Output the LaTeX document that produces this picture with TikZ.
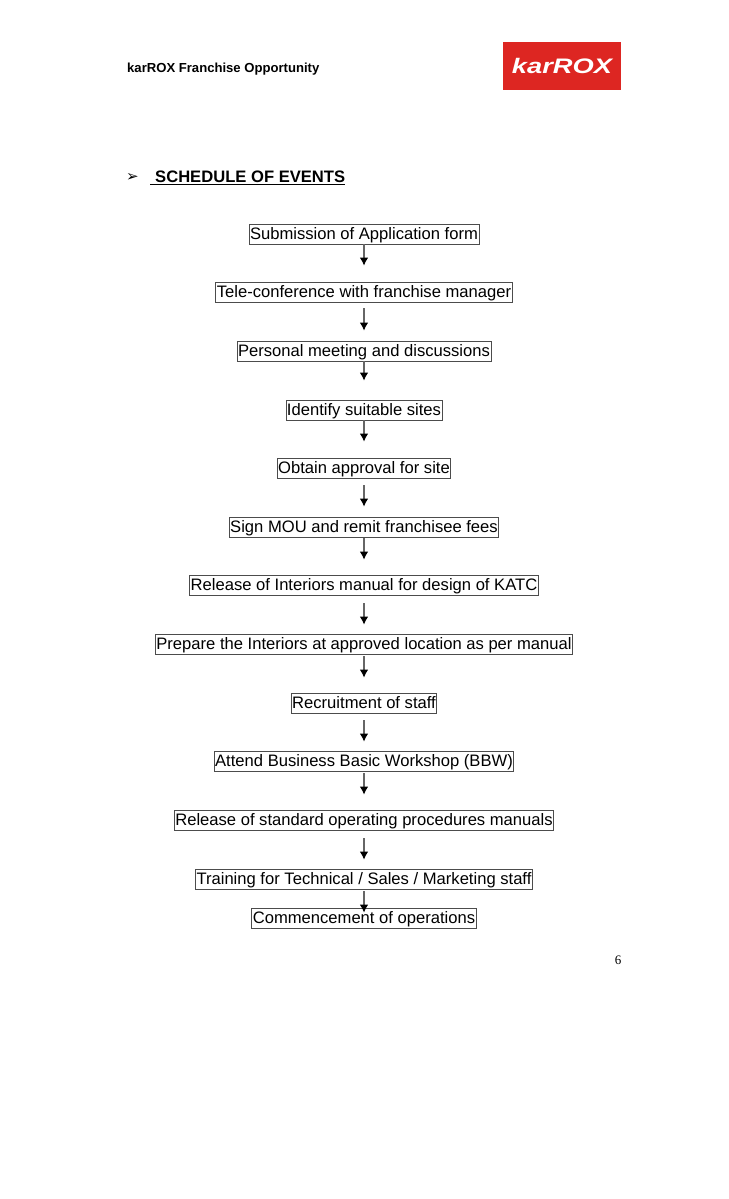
\documentclass[tikz,border=0pt]{standalone}
\usepackage{fontspec}
\setmainfont{Liberation Sans}
\newfontfamily\serifnum{Liberation Serif}
\newfontfamily\symbolfont{DejaVu Sans}
\usetikzlibrary{arrows.meta}
\definecolor{logored}{HTML}{DD2622}

\tikzset{
    stepbox/.style={draw=black!70, line width=0.8pt, inner xsep=1pt, inner ysep=0pt,
        text height=15.4pt, text depth=4.6pt, font=\fontsize{16.6}{20}\selectfont},
    flow/.style={draw=black!60, line width=1.1pt, -{Latex[black,length=8pt,width=8.5pt]}},
    headtext/.style={inner sep=0pt, anchor=base west}
}

\begin{document}
\begin{tikzpicture}[x=1pt,y=-1pt]
        \useasboundingbox (0,0) rectangle (728,1199);
        \fill[white] (0,0) rectangle (728,1199);

        % page header
        \node[headtext, font=\fontsize{13.1}{15}\selectfont\bfseries] (title) at (127,73) {karROX Franchise Opportunity};
        \node[fill=logored, minimum width=118pt, minimum height=48pt, inner sep=0pt] (logo) at (562,66) {};
        \node[text=white, inner sep=0pt, xscale=1.3, font=\fontsize{21}{23}\selectfont\bfseries\itshape] (logotext) at (logo.center) {karROX};

        % heading
        \node[headtext, font=\fontsize{15}{17}\symbolfont] (bullet) at (126,181) {➢};
        \node[headtext, font=\fontsize{16.6}{20}\selectfont\bfseries] (heading) at (155,182) {SCHEDULE OF EVENTS};
        \draw[line width=1.4pt] (150,184.5) -- (heading.base east |- 0,184.5);

        % boxes
        \foreach \name/\y/\txt in {
            submit/234/Submission of Application form,
            tele/292/Tele-conference with franchise manager,
            meet/351/Personal meeting and discussions,
            sites/410/Identify suitable sites,
            approval/468/Obtain approval for site,
            mou/527/Sign MOU and remit franchisee fees,
            manual/585/Release of Interiors manual for design of KATC,
            interiors/644/Prepare the Interiors at approved location as per manual,
            staff/703/Recruitment of staff,
            bbw/761/Attend Business Basic Workshop (BBW),
            sop/820/Release of standard operating procedures manuals,
            training/879/{Training for Technical / Sales / Marketing staff},
            start/918/Commencement of operations}
        {
            \node[stepbox] (\name) at (364,\y) {\txt};
        }

        % arrows
        \foreach \a/\b/\s/\t in {
            submit/tele/0/16, tele/meet/6/10, meet/sites/0/19, sites/approval/0/16,
            approval/mou/7/10, mou/manual/1/15, manual/interiors/8/9, interiors/staff/2/15,
            staff/bbw/7/9, bbw/sop/2/15, sop/training/8/9, training/start/2/-5}
        {
            \draw[flow] ([yshift=-\s pt]\a.south) -- ([yshift=\t pt]\b.north);
        }

        \node[inner sep=0pt, font=\fontsize{13}{15}\serifnum] (pagenum) at (618,960) {6};
    \end{tikzpicture}
\end{document}
